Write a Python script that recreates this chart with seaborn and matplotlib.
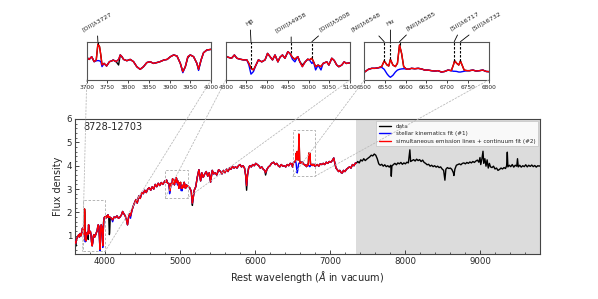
import matplotlib
matplotlib.use("Agg")
import matplotlib.pyplot as plt
import seaborn as sns
from matplotlib.patches import Rectangle, ConnectionPatch
from matplotlib.ticker import MultipleLocator, NullLocator

# ---------------- data ----------------
w0 = [3600, 3610, 3620, 3635, 3650, 3660, 3670, 3680, 3690]
f0 = [0.75, 0.68, 0.85, 0.95, 1.05, 0.95, 1.10, 1.00, 1.12]

w1 = [3700, 3706, 3712, 3718, 3723, 3727, 3731, 3734, 3737, 3742, 3748, 3755, 3760, 3764, 3771,
      3777, 3781, 3785, 3789, 3797, 3805, 3813, 3821, 3829, 3837, 3845, 3853, 3861, 3869, 3877,
      3886, 3894, 3902, 3910, 3918, 3926, 3932, 3938, 3944, 3950, 3958, 3966, 3970, 3976, 3982,
      3990, 4000]
f1 = [1.32, 1.19, 1.36, 1.05, 1.15, 2.15, 1.99, 1.47, 0.84, 0.94, 0.78, 1.05, 1.09, 1.15, 1.05,
      1.19, 1.47, 1.36, 1.19, 1.11, 1.19, 1.05, 0.73, 0.57, 0.73, 0.99, 1.05, 0.94, 0.99, 1.05,
      1.15, 1.19, 1.36, 1.47, 1.40, 0.94, 0.42, 0.73, 1.36, 1.47, 1.36, 0.94, 0.57, 1.15, 1.61,
      1.78, 1.82]

w2 = [4010, 4020, 4030, 4040, 4050, 4058, 4062, 4070, 4085, 4102, 4120, 4140, 4160, 4180, 4200,
      4220, 4235, 4250, 4270, 4285, 4300, 4315, 4330, 4340, 4360, 4380, 4400, 4412, 4430, 4450,
      4470, 4490, 4510, 4530, 4550, 4570, 4590, 4610, 4630, 4650, 4670, 4690, 4710, 4730, 4750,
      4770, 4790]
f2 = [1.75, 1.85, 1.80, 1.90, 1.78, 1.80, 1.82, 1.78, 1.75, 1.68, 1.80, 1.78, 1.85, 1.75, 1.80,
      1.90, 2.04, 1.95, 1.85, 1.70, 1.47, 1.80, 1.95, 1.85, 2.10, 2.30, 2.45, 2.55, 2.40, 2.70,
      2.60, 2.85, 2.80, 2.95, 2.85, 3.00, 3.06, 2.95, 3.10, 3.00, 3.20, 3.10, 3.25, 3.15, 3.28,
      3.20, 3.30]

w3 = [4800, 4806, 4814, 4821, 4827, 4835, 4843, 4851, 4856, 4861, 4867, 4873, 4879, 4887, 4895,
      4901, 4907, 4913, 4919, 4926, 4931, 4937, 4943, 4950, 4955, 4961, 4967, 4974, 4979, 4985,
      4992, 4998, 5002, 5008, 5012, 5017, 5023, 5030, 5035, 5044, 5049, 5056, 5062, 5068, 5073,
      5080, 5086, 5091, 5100]
f3 = [3.36, 3.32, 3.29, 3.39, 3.29, 3.26, 3.24, 3.24, 3.13, 2.98, 2.93, 3.08, 3.24, 3.18, 3.24,
      3.44, 3.34, 3.24, 3.39, 3.18, 3.32, 3.39, 3.29, 3.49, 3.44, 3.32, 3.26, 3.34, 3.18, 3.03,
      3.18, 3.26, 3.24, 3.29, 3.18, 3.03, 3.08, 3.03, 3.13, 3.18, 3.08, 3.29, 3.22, 3.08, 3.03,
      3.08, 3.18, 3.13, 3.15]

w4 = [5110, 5130, 5150, 5165, 5175, 5190, 5210, 5230, 5252, 5275, 5290, 5310, 5330, 5350, 5370,
      5390, 5408, 5430, 5450, 5470, 5490, 5515, 5540, 5560, 5580, 5600, 5620, 5640, 5660, 5680,
      5700, 5720, 5740, 5760, 5780, 5800, 5820, 5840, 5860, 5875, 5888, 5900, 5915, 5930, 5950,
      5970, 5990, 6010, 6030, 6050, 6070, 6090, 6110, 6130, 6141, 6160, 6180, 6200, 6220, 6248,
      6270, 6290, 6310, 6330, 6350, 6370, 6390, 6410, 6430, 6450, 6470, 6490]
f4 = [3.10, 3.05, 2.90, 2.40, 2.60, 2.95, 3.10, 3.50, 3.83, 3.35, 3.70, 3.50, 3.65, 3.75, 3.55,
      3.70, 3.30, 3.80, 3.65, 3.70, 3.60, 3.83, 3.75, 3.65, 3.80, 3.70, 3.85, 3.75, 3.90, 3.85,
      3.97, 3.90, 3.95, 3.90, 4.00, 4.05, 3.95, 4.00, 3.90, 3.60, 3.15, 3.60, 3.90, 4.00, 3.95,
      4.05, 4.00, 4.10, 4.05, 4.00, 3.90, 3.95, 3.85, 3.80, 3.70, 3.85, 3.95, 4.00, 4.10, 4.15,
      4.05, 4.10, 4.00, 3.95, 4.05, 3.98, 4.00, 3.95, 4.05, 4.00, 4.10, 4.08]

w5 = [6500, 6510, 6518, 6526, 6534, 6542, 6548, 6555, 6559, 6563, 6569, 6575, 6580, 6585, 6590,
      6595, 6601, 6606, 6614, 6622, 6630, 6638, 6646, 6654, 6662, 6670, 6678, 6686, 6694, 6702,
      6710, 6715, 6718, 6723, 6728, 6732, 6736, 6741, 6748, 6754, 6762, 6770, 6778, 6786, 6794,
      6800]
f5 = [3.95, 4.10, 4.15, 4.15, 4.18, 4.24, 4.53, 4.32, 4.27, 4.61, 4.32, 4.24, 4.41, 5.35, 4.92,
      4.24, 4.12, 4.10, 4.15, 4.13, 4.15, 4.12, 4.06, 4.06, 4.03, 4.01, 4.03, 3.96, 3.99, 4.06,
      4.03, 4.32, 4.54, 4.41, 4.32, 4.53, 4.32, 4.06, 4.03, 4.03, 4.06, 4.01, 4.03, 4.06, 3.99,
      3.98]

w6 = [6810, 6830, 6850, 6870, 6890, 6910, 6930, 6950, 6970, 6990, 7010, 7030, 7050, 7065, 7080,
      7097, 7115, 7130, 7150, 7164, 7180, 7200, 7220, 7240, 7260, 7280, 7300, 7320, 7340, 7350]
f6 = [4.00, 4.05, 3.98, 4.08, 4.05, 4.10, 4.05, 4.15, 4.10, 4.18, 4.15, 4.22, 4.33, 4.10, 3.90,
      3.83, 3.75, 3.80, 3.70, 3.69, 3.80, 3.75, 3.85, 3.90, 3.95, 3.90, 4.05, 4.00, 4.12, 4.10]

# data beyond the fitted range (black only)
w7 = [7370, 7390, 7410, 7430, 7450, 7470, 7490, 7510, 7530, 7550,
      7570, 7590, 7610, 7630, 7650, 7670, 7690, 7710, 7730, 7750,
      7770, 7790, 7810, 7817, 7825, 7845, 7865, 7885, 7905, 7925,
      7945, 7965, 7985, 8005, 8025, 8045, 8065, 8075, 8095, 8115,
      8135, 8155, 8175, 8195, 8215, 8235, 8255, 8275, 8295, 8315,
      8335, 8355, 8375, 8395, 8415, 8435, 8455, 8475, 8495, 8515,
      8532, 8545, 8565, 8585, 8605, 8625, 8645, 8652, 8665, 8685,
      8705, 8725, 8745, 8765, 8785, 8805, 8825, 8845, 8865, 8885,
      8905, 8925, 8945, 8965, 8985, 9000, 9010, 9025, 9040, 9050,
      9065, 9080, 9095, 9110, 9125, 9140, 9160, 9180, 9200, 9220,
      9240, 9260, 9280, 9300, 9320, 9340, 9355, 9364, 9372, 9390,
      9410, 9430, 9450, 9470, 9490, 9500, 9510, 9530, 9550, 9570,
      9590, 9610, 9630, 9650, 9670, 9690, 9710, 9730, 9750, 9770,
      9790, 9800]
f7 = [4.18, 4.12, 4.25, 4.20, 4.30, 4.22, 4.28, 4.33, 4.38, 4.45,
      4.42, 4.50, 4.45, 4.30, 4.08, 4.02, 4.06, 3.98, 4.04, 3.96,
      4.00, 3.94, 4.02, 3.55, 3.98, 4.05, 4.10, 4.04, 4.12, 4.08,
      4.14, 4.06, 4.12, 4.08, 4.15, 4.12, 4.68, 4.18, 4.22, 4.26,
      4.20, 4.28, 4.22, 4.26, 4.18, 4.24, 4.14, 4.10, 4.04, 4.06,
      3.98, 4.02, 3.96, 4.00, 3.94, 3.98, 3.92, 3.95, 3.86, 3.80,
      3.38, 3.85, 3.92, 3.88, 3.90, 3.84, 3.70, 3.58, 3.85, 4.02,
      4.05, 4.08, 4.04, 4.10, 4.12, 4.08, 4.14, 4.10, 4.16, 4.12,
      4.18, 4.14, 4.20, 4.24, 4.15, 4.35, 4.05, 4.28, 4.62, 4.10,
      4.30, 3.98, 4.25, 3.90, 4.10, 3.95, 3.92, 3.98, 3.86, 3.90,
      3.80, 3.84, 3.90, 3.86, 3.92, 3.88, 4.00, 4.58, 3.95, 4.02,
      3.96, 4.05, 3.94, 4.02, 3.98, 4.30, 3.95, 4.02, 3.94, 4.00,
      3.96, 4.04, 3.95, 4.02, 3.97, 4.03, 3.96, 4.01, 3.94, 4.00,
      3.98, 4.00]

# stellar-kinematics fit where it departs from the full fit
star_values = {3723: 1.10, 3727: 1.12, 3731: 1.10, 3734: 1.05, 3737: 0.74, 3932: 0.36, 3970: 0.50,
               4102: 1.60, 4340: 1.75,
               4856: 3.08, 4861: 2.80, 4867: 2.88, 4961: 3.26, 4967: 3.18, 5008: 3.13, 5017: 2.93,
               5030: 2.93,
               6542: 4.20, 6548: 4.10, 6555: 3.86, 6559: 3.76, 6563: 3.69, 6569: 3.79, 6575: 3.96,
               6580: 4.06, 6585: 4.10, 6590: 4.12, 6595: 4.13, 6715: 4.00, 6718: 4.00, 6723: 3.99,
               6728: 3.96, 6732: 3.96, 6736: 3.98, 6741: 4.00}
# observed data where it departs from the full fit
obs_values = {3610: 0.55, 3777: 0.84, 3944: 1.30, 4058: 1.05, 4062: 1.12, 4985: 3.08,
              5165: 2.30, 5888: 2.95, 6141: 3.60}

legend_labels = ["data", "stellar kinematics fit (#1)",
                 "simultaneous emission lines + continuum fit (#2)"]
galaxy_id = "8728-12703"
fit_end = 7350

zoom_windows = [(3700, 4000), (4800, 5100), (6500, 6800)]
zoom_boxes_y = [(0.33, 2.55), (2.62, 3.80), (3.55, 5.52)]
inset_ylims = [(-0.1, 2.3), (2.62, 3.80), (3.55, 5.52)]
line_names = [["[OII]λ3727"], ["Hβ", "[OIII]λ4958", "[OIII]λ5008"],
              ["[NII]λ6548", "Hα", "[NII]λ6585", "[SII]λ6717", "[SII]λ6732"]]
line_waves = [[3727], [4861, 4958, 5008], [6548, 6563, 6585, 6717, 6732]]
label_offsets = [[(-0.7, 6.5)], [(-0.7, 10.8), (0, 5.8), (16.6, 6.5)],
                 [(-13, 6.5), (0, 10.8), (15, 7.2), (7.2, 7.2), (18.7, 7.2)]]

# ---------------- assemble ----------------
wave_fit = w0 + w1 + w2 + w3 + w4 + w5 + w6
flux_fit = f0 + f1 + f2 + f3 + f4 + f5 + f6
flux_star = [star_values.get(w, f) for w, f in zip(wave_fit, flux_fit)]
wave_obs = wave_fit + w7
flux_obs = [obs_values.get(w, f) for w, f in zip(wave_fit, flux_fit)] + f7

# ---------------- style ----------------
sns.set_style("ticks")
plt.rcParams.update({
    "font.family": ["DejaVu Sans"],
    "xtick.direction": "in", "ytick.direction": "in",
    "xtick.major.size": 3.0, "ytick.major.size": 3.0,
    "xtick.minor.size": 1.6, "ytick.minor.size": 1.6,
    "xtick.major.width": 0.6, "ytick.major.width": 0.6,
    "xtick.minor.width": 0.5, "ytick.minor.width": 0.5,
    "axes.linewidth": 0.8, "axes.edgecolor": "#444444",
})

fig = plt.figure(figsize=(5.98, 2.99), dpi=100)
ax = fig.add_axes([75 / 598, 45 / 299, 465 / 598, 135 / 299])

ax.axvspan(fit_end, 9800, color="#dcdcdc", lw=0, zorder=0)
sns.lineplot(x=wave_obs, y=flux_obs, ax=ax, color="black", lw=1.0, sort=False,
             estimator=None, label=legend_labels[0], zorder=2)
sns.lineplot(x=wave_fit, y=flux_star, ax=ax, color="blue", lw=1.0, sort=False,
             estimator=None, label=legend_labels[1], zorder=3)
sns.lineplot(x=wave_fit, y=flux_fit, ax=ax, color="red", lw=1.0, sort=False,
             estimator=None, label=legend_labels[2], zorder=4)

ax.set_xlim(3600, 9800)
ax.set_ylim(0.22, 6.0)
ax.xaxis.set_major_locator(MultipleLocator(1000))
ax.xaxis.set_minor_locator(MultipleLocator(200))
ax.yaxis.set_major_locator(MultipleLocator(1))
ax.yaxis.set_minor_locator(MultipleLocator(0.2))
ax.tick_params(labelsize=6.2, pad=2)
ax.set_xlabel(r"Rest wavelength ($\AA$ in vacuum)", fontsize=7, labelpad=2)
ax.set_ylabel("Flux density", fontsize=7, labelpad=3)
ax.text(0.017, 0.94, galaxy_id, transform=ax.transAxes, fontsize=7, ha="left", va="center")

leg = ax.legend(loc="upper right", fontsize=4.1, frameon=True, framealpha=0.85,
                edgecolor="#bbbbbb", fancybox=False, handlelength=2.2, borderpad=0.45,
                labelspacing=0.45, borderaxespad=0.35)
leg.get_frame().set_linewidth(0.5)
for h in leg.get_lines():
    h.set_linewidth(1.0)

# ---------------- insets ----------------
inset_lefts = [86.7 / 598, 225.7 / 598, 364.3 / 598]
inset_w = 124.3 / 598
inset_b = (299 - 80) / 299
inset_h = 38.3 / 299

for k, (x0, x1) in enumerate(zoom_windows):
    ins = fig.add_axes([inset_lefts[k], inset_b, inset_w, inset_h])
    sns.lineplot(x=wave_obs, y=flux_obs, ax=ins, color="black", lw=1.0, sort=False,
                 estimator=None, legend=False)
    sns.lineplot(x=wave_fit, y=flux_star, ax=ins, color="blue", lw=1.0, sort=False,
                 estimator=None, legend=False)
    sns.lineplot(x=wave_fit, y=flux_fit, ax=ins, color="red", lw=1.0, sort=False,
                 estimator=None, legend=False)
    ins.set_xlim(x0, x1)
    y0, y1 = inset_ylims[k]
    ins.set_ylim(y0, y1)
    ins.set_xlabel("")
    ins.set_ylabel("")
    ins.xaxis.set_major_locator(MultipleLocator(50))
    ins.xaxis.set_minor_locator(NullLocator())
    ins.yaxis.set_major_locator(NullLocator())
    ins.yaxis.set_minor_locator(NullLocator())
    ins.tick_params(axis="x", labelsize=4.2, pad=1.5, length=2, direction="out")
    for s in ins.spines.values():
        s.set_color("#555555")
        s.set_linewidth(0.8)

    # emission-line markers and labels
    for name, lw_, off in zip(line_names[k], line_waves[k], label_offsets[k]):
        idx = min(range(len(wave_fit)), key=lambda i: abs(wave_fit[i] - lw_))
        ins.plot([lw_, lw_], [flux_fit[idx], y1], ls=(0, (2.2, 1.4)), color="black",
                 lw=0.8, zorder=6)
        ins.annotate(name, xy=(lw_, 1.0), xycoords=("data", "axes fraction"),
                     xytext=off, textcoords="offset points", ha="center", va="bottom",
                     rotation=30, fontsize=4.6, annotation_clip=False,
                     arrowprops=dict(arrowstyle="-", color="black", lw=0.6,
                                     shrinkA=0, shrinkB=0))

    # zoom box in the main panel and connectors
    by0, by1 = zoom_boxes_y[k]
    ax.add_patch(Rectangle((x0, by0), x1 - x0, by1 - by0, fill=False, ls=(0, (3, 2)),
                           ec="#aaaaaa", lw=0.6, zorder=5))
    for (ax_x, ins_x) in [(x0, 0.0), (x1, 1.0)]:
        cp = ConnectionPatch(xyA=(ins_x, 0.0), coordsA=ins.transAxes,
                             xyB=(ax_x, by0), coordsB=ax.transData,
                             color="#bbbbbb", lw=0.6, ls=(0, (2, 2)), zorder=1)
        fig.add_artist(cp)

fig.savefig("out.png", dpi=100)
